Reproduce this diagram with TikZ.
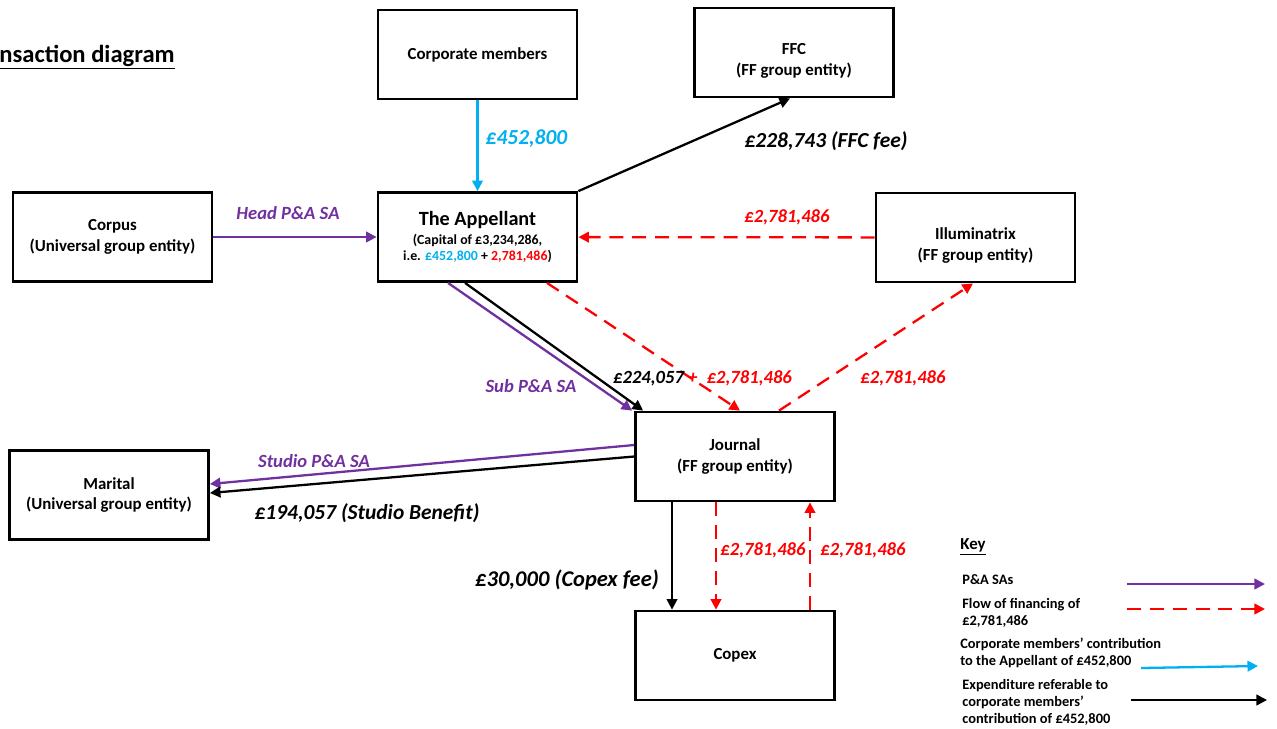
\documentclass[tikz,border=0pt]{standalone}
\usepackage{fontspec}
\setmainfont{Carlito}
\usetikzlibrary{arrows.meta, positioning, calc}
\definecolor{capblue}{RGB}{0,176,240}
\definecolor{sapurple}{RGB}{112,48,160}
\definecolor{finred}{RGB}{255,0,0}

\begin{document}
\begin{tikzpicture}[
  x=0.02cm, y=-0.02cm,
  font=\bfseries\fontsize{9.6}{11.6}\selectfont,
  >={Triangle[length=6pt,width=6pt]},
  %--- boxes ---
  entity/.style={
    draw, line width=1.6pt,
    minimum width=3.98cm, minimum height=1.78cm,
    align=center, inner sep=2pt
  },
  %--- arrow styles ---
  saarr/.style={->, sapurple, line width=1.3pt},
  finarr/.style={->, finred, line width=1.3pt, dash pattern=on 8pt off 5pt},
  caparr/.style={->, capblue, line width=1.3pt},
  exparr/.style={->, black, line width=1.3pt},
  amt/.style={font=\bfseries\itshape\fontsize{12.2}{14}\selectfont, inner sep=1pt},
  amtsm/.style={font=\bfseries\itshape\fontsize{10.6}{12}\selectfont, inner sep=1pt},
  keytxt/.style={font=\bfseries\fontsize{8.2}{9.7}\selectfont,
    align=left, anchor=west, inner sep=0pt}
]
\useasboundingbox (0,0) rectangle (1277,728);

%------------------------------------------------------------------
%  Title (as it shows at the left edge)
%------------------------------------------------------------------
\node[anchor=base east, inner sep=0pt, font=\bfseries\fontsize{14}{16}\selectfont]
  (title) at (175,62) {\underline{nsaction diagram}};

%------------------------------------------------------------------
%  Entities
%------------------------------------------------------------------
\node[entity] (corpmem)   at (477.5,54.5) {Corporate members};
\node[entity] (ffc)       at (794,52.5)   {\rule{0pt}{16pt}FFC\\(FF group entity)};
\node[entity] (corpus)    at (112.5,237)  {Corpus\\(Universal group entity)};
\node[entity, font=\bfseries\fontsize{7.9}{9}\selectfont] (appellant) at (477.5,237)
  {{\fontsize{11.5}{13}\selectfont The Appellant}\\[2pt]
   (Capital of £3,234,286,\\
   i.e. \textcolor{capblue}{£452,800} + \textcolor{finred}{2,781,486})};
\node[entity] (illum)     at (975.5,237.5) {\rule{0pt}{16pt}Illuminatrix\\(FF group entity)};
\node[entity] (journal)   at (735,456.5)  {Journal\\(FF group entity)};
\node[entity] (marital)   at (109,495)    {Marital\\(Universal group entity)};
\node[entity] (copex)     at (735,655.5)  {Copex};

%------------------------------------------------------------------
%  Top: contribution and FFC fee
%------------------------------------------------------------------
\draw[caparr] (corpmem) -- (appellant)
  node[midway, right, amt, text=capblue, xshift=3pt, yshift=4pt] {£452,800};
\draw[exparr] (appellant.north east) -- ([xshift=-0.08cm]ffc.south);
\node[amt] (ffcfee) at (826,141) {£228,743 (FFC fee)};

%------------------------------------------------------------------
%  Head P&A SA and financing from Illuminatrix
%------------------------------------------------------------------
\draw[saarr] (corpus) -- (appellant)
  node[midway, above, amtsm, text=sapurple, yshift=8pt, xshift=-4pt] {Head P\&A SA};
\draw[finarr] (illum) -- (appellant);
\node[amtsm, text=finred] (illumamt) at (787,217) {£2,781,486};

%------------------------------------------------------------------
%  Appellant -> Journal -> Illuminatrix
%------------------------------------------------------------------
\draw[saarr] ([xshift=-0.59cm]appellant.south) -- ([xshift=-0.04cm]journal.north west);
\draw[exparr] ([xshift=-0.25cm]appellant.south) -- ([xshift=0.18cm]journal.north west);
\draw[finarr] ([xshift=1.39cm]appellant.south) -- ([xshift=0.1cm]journal.north);
\draw[finarr] ([xshift=0.88cm]journal.north) -- ([xshift=-0.05cm]illum.south);
\node[amtsm, text=sapurple] (subsa) at (531,386) {Sub P\&A SA};
\node[amtsm, anchor=west] (jouramt) at (611,378)
  {£224,057 \textcolor{finred}{+\enspace£2,781,486}};
\node[amtsm, text=finred] (retamt) at (903,378) {£2,781,486};

%------------------------------------------------------------------
%  Journal -> Marital
%------------------------------------------------------------------
\draw[saarr] ([yshift=0.23cm]journal.west) -- ([yshift=0.22cm]marital.east);
\draw[exparr] (journal.west) -- ([yshift=0.04cm]marital.east);
\node[amtsm, text=sapurple] (studiosa) at (314,461) {Studio P\&A SA};
\node[amt] (studioben) at (367,513) {£194,057 (Studio Benefit)};

%------------------------------------------------------------------
%  Journal <-> Copex
%------------------------------------------------------------------
\draw[exparr] ([xshift=-1.26cm]journal.south) -- ([xshift=-1.26cm]copex.north);
\draw[finarr] ([xshift=-0.38cm]journal.south) -- ([xshift=-0.38cm]copex.north);
\draw[finarr] ([xshift=1.5cm]copex.north) -- ([xshift=1.5cm]journal.south);
\node[amt, font=\bfseries\itshape\fontsize{12.8}{14}\selectfont] (copexfee) at (567,580) {£30,000 (Copex fee)};
\node[amtsm, text=finred] (downamt) at (763,550) {£2,781,486};
\node[amtsm, text=finred] (upamt) at (863,550) {£2,781,486};

%------------------------------------------------------------------
%  Key
%------------------------------------------------------------------
\node[anchor=west, inner sep=0pt] (keyhead) at (960,547) {\underline{Key}};
\node[keytxt] (keysa)  at (962,580) {P\&A SAs};
\node[keytxt] (keyfin) at (962,613) {Flow of financing of\\£2,781,486};
\node[keytxt] (keycap) at (960,653) {Corporate members’ contribution\\to the Appellant of £452,800};
\node[keytxt] (keyexp) at (962,702) {Expenditure referable to\\corporate members’\\contribution of £452,800};

\coordinate (ksa1)  at (1127,584);  \coordinate (ksa2)  at (1265,584);
\coordinate (kfin1) at (1127,609);  \coordinate (kfin2) at (1265,609);
\coordinate (kcap1) at (1141,668);  \coordinate (kcap2) at (1258,666);
\coordinate (kexp1) at (1131,700);  \coordinate (kexp2) at (1267,700);
\draw[saarr]  (ksa1)  -- (ksa2);
\draw[finarr] (kfin1) -- (kfin2);
\draw[caparr] (kcap1) -- (kcap2);
\draw[exparr] (kexp1) -- (kexp2);

\end{tikzpicture}
\end{document}
